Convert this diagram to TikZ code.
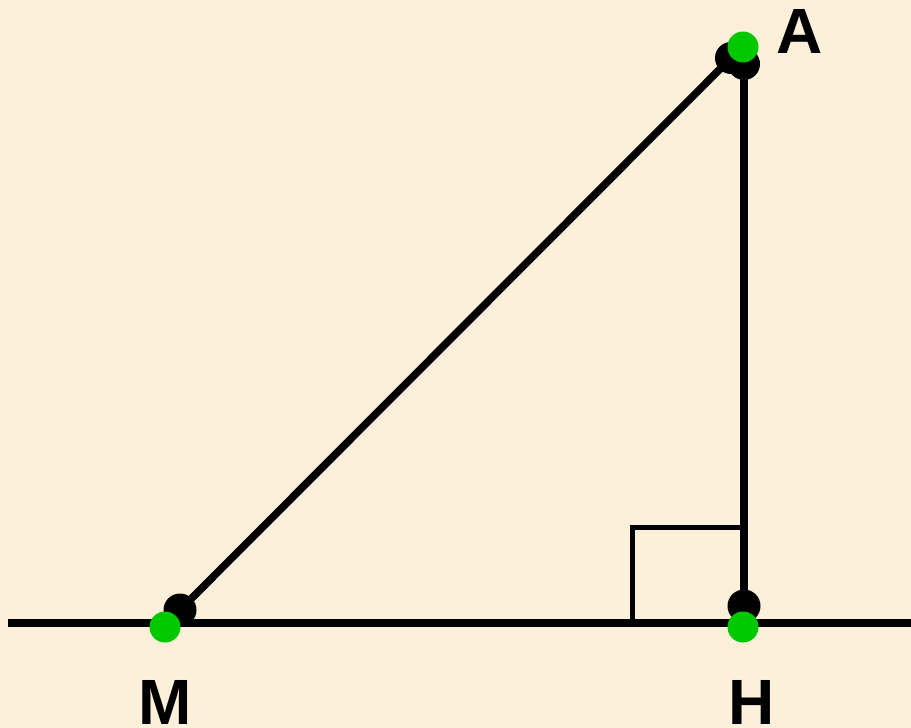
\documentclass[tikz,border=0pt]{standalone}
\usepackage{fontspec}
\setmainfont{Liberation Sans}
\usepackage{xcolor}
\definecolor{paper}{HTML}{FCF0DA}
\definecolor{dotgreen}{HTML}{00C800}

\begin{document}
\begin{tikzpicture}[
  x=1pt, y=-1pt,
  every node/.style={font=\fontsize{64}{64}\bfseries\selectfont, black, anchor=base, inner sep=0pt},
  seg/.style={black, line width=7.5pt},
  rightangle/.style={black, line width=5pt},
  blackdot/.style={fill=black},
  greendot/.style={fill=dotgreen}
]

  %% ---- background ---------------------------------------------------
  \fill[paper] (0,0) rectangle (911,728);
  \useasboundingbox (0,0) rectangle (911,728);

  %% ---- points -------------------------------------------------------
  \coordinate (Mb) at (180,610);
  \coordinate (Ab) at (731,58);
  \coordinate (Ab2) at (744,64);
  \coordinate (Hb) at (744,606);
  \coordinate (Hf) at (744,623);
  \coordinate (Mg) at (165,627);
  \coordinate (Ag) at (743,47);
  \coordinate (Hg) at (743,627);
  \coordinate (left) at (8,623);
  \coordinate (right) at (911,623);

  %% ---- lines --------------------------------------------------------
  \draw[seg] (left) -- (right);
  \draw[seg] (Mb) -- (Ab);
  \draw[seg] (Ab2) -- (Hf);
  \draw[rightangle] (632,623) -- (632,527) -- (744,527);

  %% ---- dots ---------------------------------------------------------
  \fill[blackdot] (Mb) circle (16.5);
  \fill[blackdot] (Ab) circle (16);
  \fill[blackdot] (Ab2) circle (16);
  \fill[blackdot] (Hb) circle (16.5);
  \fill[greendot] (Mg) circle (15.5);
  \fill[greendot] (Ag) circle (15.5);
  \fill[greendot] (Hg) circle (15.5);

  %% ---- labels -------------------------------------------------------
  \node (A) at (800,53) {A};
  \node (M) at (165,724) {M};
  \node (H) at (752,724) {H};

\end{tikzpicture}
\end{document}
